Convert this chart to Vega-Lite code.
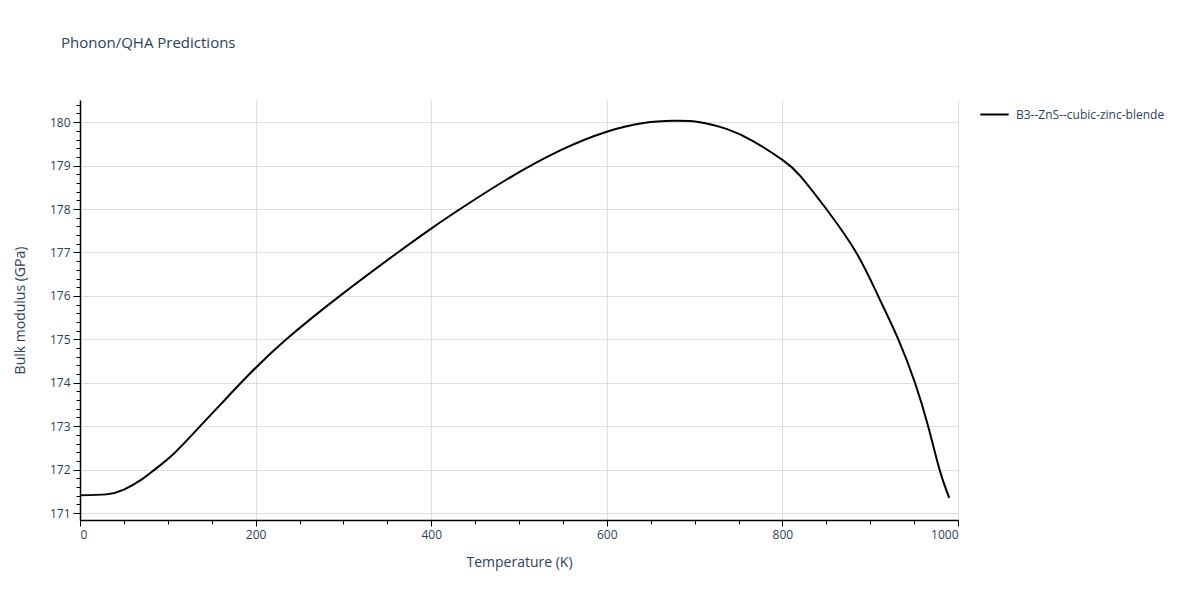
{
  "$schema": "https://vega.github.io/schema/vega-lite/v6.json",
  "width": 878,
  "height": 420,
  "autosize": {"type": "none"},
  "padding": {"left": 80, "top": 100, "right": 242, "bottom": 80},
  "background": "white",
  "title": {"text": "Phonon/QHA Predictions", "anchor": "start", "frame": "group", "dx": -19, "offset": 48, "fontSize": 15, "font": "Open Sans", "fontWeight": "normal", "color": "#2a3f5f"},
  "config": {"view": {"stroke": null}},
  "data": {"values": [
    {"T": 0, "B": 171.41, "s": "B3--ZnS--cubic-zinc-blende"},
    {"T": 30, "B": 171.43, "s": "B3--ZnS--cubic-zinc-blende"},
    {"T": 50, "B": 171.54, "s": "B3--ZnS--cubic-zinc-blende"},
    {"T": 70, "B": 171.77, "s": "B3--ZnS--cubic-zinc-blende"},
    {"T": 85, "B": 172.0, "s": "B3--ZnS--cubic-zinc-blende"},
    {"T": 108, "B": 172.39, "s": "B3--ZnS--cubic-zinc-blende"},
    {"T": 135, "B": 172.96, "s": "B3--ZnS--cubic-zinc-blende"},
    {"T": 161, "B": 173.52, "s": "B3--ZnS--cubic-zinc-blende"},
    {"T": 193, "B": 174.2, "s": "B3--ZnS--cubic-zinc-blende"},
    {"T": 235, "B": 175.0, "s": "B3--ZnS--cubic-zinc-blende"},
    {"T": 296, "B": 176.0, "s": "B3--ZnS--cubic-zinc-blende"},
    {"T": 362, "B": 177.0, "s": "B3--ZnS--cubic-zinc-blende"},
    {"T": 400, "B": 177.55, "s": "B3--ZnS--cubic-zinc-blende"},
    {"T": 433, "B": 178.0, "s": "B3--ZnS--cubic-zinc-blende"},
    {"T": 486, "B": 178.68, "s": "B3--ZnS--cubic-zinc-blende"},
    {"T": 547, "B": 179.35, "s": "B3--ZnS--cubic-zinc-blende"},
    {"T": 600, "B": 179.78, "s": "B3--ZnS--cubic-zinc-blende"},
    {"T": 642, "B": 179.98, "s": "B3--ZnS--cubic-zinc-blende"},
    {"T": 676, "B": 180.03, "s": "B3--ZnS--cubic-zinc-blende"},
    {"T": 706, "B": 180.0, "s": "B3--ZnS--cubic-zinc-blende"},
    {"T": 737, "B": 179.84, "s": "B3--ZnS--cubic-zinc-blende"},
    {"T": 767, "B": 179.56, "s": "B3--ZnS--cubic-zinc-blende"},
    {"T": 800, "B": 179.13, "s": "B3--ZnS--cubic-zinc-blende"},
    {"T": 820, "B": 178.77, "s": "B3--ZnS--cubic-zinc-blende"},
    {"T": 850, "B": 178.0, "s": "B3--ZnS--cubic-zinc-blende"},
    {"T": 884, "B": 177.0, "s": "B3--ZnS--cubic-zinc-blende"},
    {"T": 909, "B": 176.0, "s": "B3--ZnS--cubic-zinc-blende"},
    {"T": 932, "B": 175.0, "s": "B3--ZnS--cubic-zinc-blende"},
    {"T": 951, "B": 174.0, "s": "B3--ZnS--cubic-zinc-blende"},
    {"T": 966, "B": 173.0, "s": "B3--ZnS--cubic-zinc-blende"},
    {"T": 979, "B": 172.0, "s": "B3--ZnS--cubic-zinc-blende"},
    {"T": 990, "B": 171.35, "s": "B3--ZnS--cubic-zinc-blende"}
  ]},
  "layer": [
    {
      "mark": {"type": "line", "opacity": 0},
      "encoding": {
        "x": {"field": "T", "type": "quantitative", "scale": {"domain": [0, 1000], "nice": false},
          "axis": {"orient": "bottom", "values": [50, 100, 150, 250, 300, 350, 450, 500, 550, 650, 700, 750, 850, 900, 950], "labels": false, "grid": false, "domain": false, "title": null, "tickSize": 4, "tickColor": "#000000", "tickWidth": 1}},
        "y": {"field": "B", "type": "quantitative", "scale": {"domain": [170.84, 180.51], "nice": false, "zero": false},
          "axis": {"orient": "left", "values": [171.2, 171.4, 171.6, 171.8, 172.2, 172.4, 172.6, 172.8, 173.2, 173.4, 173.6, 173.8, 174.2, 174.4, 174.6, 174.8, 175.2, 175.4, 175.6, 175.8, 176.2, 176.4, 176.6, 176.8, 177.2, 177.4, 177.6, 177.8, 178.2, 178.4, 178.6, 178.8, 179.2, 179.4, 179.6, 179.8, 180.2, 180.4], "labels": false, "grid": false, "domain": false, "title": null, "tickSize": 4, "tickColor": "#000000", "tickWidth": 1}}
      }
    },
    {
      "mark": {"type": "line", "strokeWidth": 2, "interpolate": "natural"},
      "encoding": {
        "x": {"field": "T", "type": "quantitative", "scale": {"domain": [0, 1000], "nice": false},
          "axis": {"orient": "bottom", "values": [0, 200, 400, 600, 800, 1000], "format": "d", "title": "Temperature (K)", "titleFont": "Open Sans", "titleFontSize": 14, "titleFontWeight": "normal", "titleColor": "#2a3f5f", "titlePadding": 15,
            "labelFont": "Open Sans", "labelFontSize": 12, "labelColor": "#2a3f5f", "labelPadding": 3,
            "grid": true, "gridColor": "#dddddd", "gridWidth": 1, "domain": true, "domainColor": "#000000", "domainWidth": 1.5, "tickSize": 6, "tickColor": "#000000", "tickWidth": 1}},
        "y": {"field": "B", "type": "quantitative", "scale": {"domain": [170.84, 180.51], "nice": false, "zero": false},
          "axis": {"orient": "left", "values": [171, 172, 173, 174, 175, 176, 177, 178, 179, 180], "title": "Bulk modulus (GPa)", "titleFont": "Open Sans", "titleFontSize": 14, "titleFontWeight": "normal", "titleColor": "#2a3f5f", "titlePadding": 22,
            "labelFont": "Open Sans", "labelFontSize": 12, "labelColor": "#2a3f5f", "labelPadding": 3,
            "grid": true, "gridColor": "#dddddd", "gridWidth": 1, "domain": true, "domainColor": "#000000", "domainWidth": 1.5, "tickSize": 7, "tickColor": "#000000", "tickWidth": 1}},
        "color": {"field": "s", "type": "nominal", "scale": {"range": ["#000000"]},
          "legend": {"title": null, "orient": "none", "legendX": 899, "legendY": -1, "symbolType": "stroke", "symbolSize": 800, "symbolStrokeWidth": 2, "labelFont": "Open Sans", "labelFontSize": 12, "labelColor": "#2a3f5f", "labelOffset": 6}}
      }
    }
  ],
  "resolve": {"axis": {"x": "independent", "y": "independent"}}
}
